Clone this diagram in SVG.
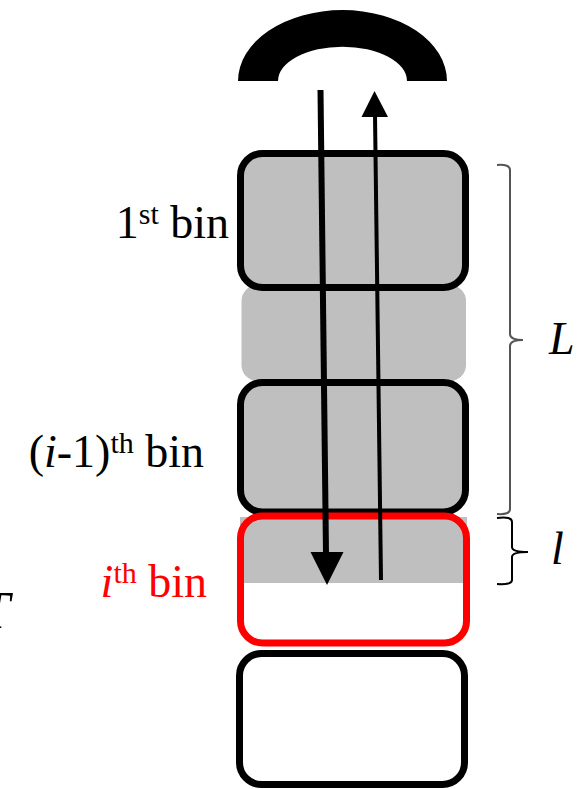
<svg xmlns="http://www.w3.org/2000/svg" width="577" height="789" viewBox="0 0 577 789">
<style>
.bin{fill:#BFBFBF;stroke:#000;stroke-width:7}
.empty{fill:#fff;stroke:#000;stroke-width:7}
.lbl{font-family:"Liberation Serif","Times New Roman",serif;font-size:46px;fill:#000}
.sup{font-size:30px}
.it{font-style:italic}
.brace{fill:none;stroke-width:2}
</style>
<g id="magnet">
<path d="M 238 81 A 104.5 71 0 0 1 447 81 L 407 81 A 64.5 34.3 0 0 0 278 81 Z" fill="#000"/>
</g>
<g id="gap-bin">
<rect x="241.5" y="285" width="224.5" height="96" rx="16" fill="#BFBFBF"/>
</g>
<g id="bin-1">
<rect class="bin" x="240.5" y="153.5" width="225" height="134" rx="22"/>
</g>
<g id="bin-i-1">
<rect class="bin" x="240.5" y="382.5" width="225" height="129.5" rx="22"/>
</g>
<g id="bin-i">
<rect x="240" y="517" width="227" height="66" fill="#BFBFBF"/>
<rect x="240.5" y="516" width="226" height="127" rx="22" fill="none" stroke="#FF0000" stroke-width="7"/>
</g>
<g id="bin-next">
<rect class="empty" x="239.5" y="653.5" width="225" height="131" rx="22"/>
</g>
<g id="connectors">
<line x1="320.5" y1="90" x2="326" y2="554" stroke="#000" stroke-width="6"/>
<polygon points="310.5,552 343.5,552 327,585" fill="#000"/>
<line x1="381" y1="580" x2="375" y2="115" stroke="#000" stroke-width="4"/>
<polygon points="361.5,117 388,117 374.5,91" fill="#000"/>
</g>
<g id="brace-L">
<path class="brace" stroke="#555" d="M 497 165 Q 510 164 510 170 L 510 334 Q 510 340 523 340 Q 510 340 510 346 L 510 509 Q 510 515 497 514"/>
</g>
<g id="brace-l">
<path class="brace" stroke="#000" d="M 497 518 Q 512 516 512 522 L 512 547 Q 512 552 528 552 Q 512 552 512 557 L 512 580 Q 512 585 497 584"/>
</g>
<g id="labels">
<text class="lbl" x="229" y="238" text-anchor="end">1<tspan class="sup" dy="-14">st</tspan><tspan dy="14"> bin</tspan></text>
<text class="lbl" x="204" y="467" text-anchor="end">(<tspan class="it">i</tspan>-1)<tspan class="sup" dy="-14">th</tspan><tspan dy="14"> bin</tspan></text>
<text class="lbl" x="207" y="597" text-anchor="end" style="fill:#FF0000"><tspan class="it">i</tspan><tspan class="sup" dy="-14">th</tspan><tspan dy="14"> bin</tspan></text>
<text class="lbl it" x="549" y="354">L</text>
<text class="lbl it" x="551" y="564">l</text>
<text class="lbl it" x="-19" y="628" style="font-size:52px">T</text>
</g>
</svg>
